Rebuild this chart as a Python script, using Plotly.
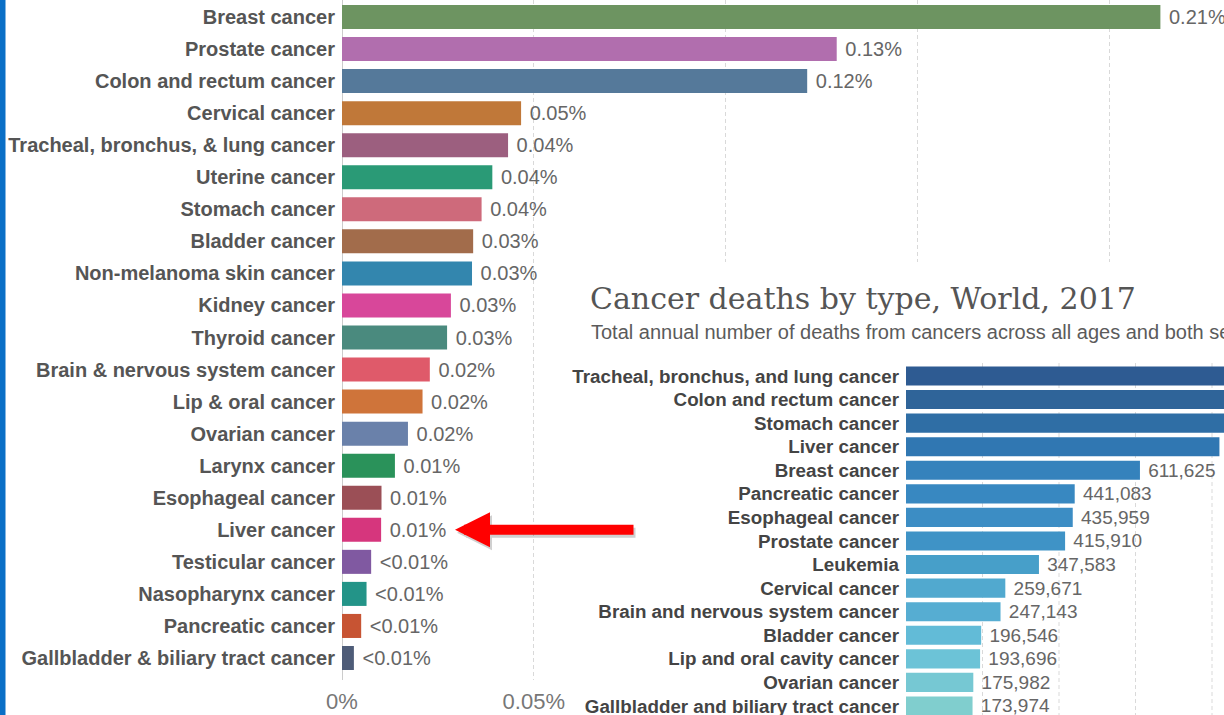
import plotly.graph_objects as go

# ---------------- data ----------------
incidence_categories = [
    "Breast cancer", "Prostate cancer", "Colon and rectum cancer", "Cervical cancer",
    "Tracheal, bronchus, & lung cancer", "Uterine cancer", "Stomach cancer", "Bladder cancer",
    "Non-melanoma skin cancer", "Kidney cancer", "Thyroid cancer", "Brain & nervous system cancer",
    "Lip & oral cancer", "Ovarian cancer", "Larynx cancer", "Esophageal cancer", "Liver cancer",
    "Testicular cancer", "Nasopharynx cancer", "Pancreatic cancer", "Gallbladder & biliary tract cancer",
]
incidence_values = [
    0.2134, 0.129, 0.1213, 0.0467, 0.0433, 0.0392, 0.0364, 0.0342, 0.0339, 0.0284, 0.0274,
    0.0229, 0.0210, 0.0172, 0.0138, 0.0103, 0.0102, 0.0076, 0.0064, 0.0050, 0.0031,
]
incidence_colors = [
    "#6D9461", "#B16EAE", "#55799A", "#C07839", "#9C5F7F", "#2A9A76", "#CE6A7B", "#A26C4B",
    "#3386AE", "#D8479A", "#4A8A7E", "#DF5A6A", "#CF743A", "#6A81AA", "#2A925A", "#9B4F56",
    "#D6367D", "#8059A1", "#239488", "#C75433", "#4E5C78",
]

death_categories = [
    "Tracheal, bronchus, and lung cancer", "Colon and rectum cancer", "Stomach cancer",
    "Liver cancer", "Breast cancer", "Pancreatic cancer", "Esophageal cancer", "Prostate cancer",
    "Leukemia", "Cervical cancer", "Brain and nervous system cancer", "Bladder cancer",
    "Lip and oral cavity cancer", "Ovarian cancer", "Gallbladder and biliary tract cancer",
]
death_values = [
    1883926, 896040, 864989, 819436, 611625, 441083, 435959, 415910, 347583, 259671,
    247143, 196546, 193696, 175982, 173974,
]
death_colors = [
    "#2E5B92", "#2F6499", "#2F6EA5", "#3077B2", "#3582BC", "#3888C1", "#3C8DC4", "#3F93C6",
    "#479FC9", "#51A9CF", "#56ADD2", "#62BBD7", "#6CC3D7", "#76C8D3", "#80CECE",
]

x_tickvals = [0, 0.05, 0.10, 0.15, 0.20]
x_ticktext = ["0%", "0.05%", "", "", ""]   # labels past 0.05% are hidden under the inset
death_gridvals = [200000, 400000, 600000, 800000]

inset_title = "Cancer deaths by type, World, 2017"
inset_subtitle = "Total annual number of deaths from cancers across all ages and both sexes."
highlight = "Liver cancer"

# ---------------- figure ----------------
W, H = 1224, 715
FONT = "Liberation Sans"
NBSP = "\u00a0"


def fx(px):
    return px / W


def fy(py):
    return 1 - py / H


incidence_text = [NBSP + ("<0.01%" if v < 0.01 else f"{v:.2f}%") for v in incidence_values]

fig = go.Figure()
fig.add_trace(go.Bar(
    y=incidence_categories, x=incidence_values, orientation="h",
    marker=dict(color=incidence_colors, line=dict(width=0)),
    text=incidence_text, textposition="outside", constraintext="none",
    textfont=dict(family=FONT, size=20, color="#666666"),
    cliponaxis=False, xaxis="x", yaxis="y", hoverinfo="skip",
))
fig.add_trace(go.Bar(
    y=death_categories, x=death_values, orientation="h",
    marker=dict(color=death_colors, line=dict(width=0)),
    texttemplate=NBSP + "%{x:,}", textposition="outside", constraintext="none",
    textfont=dict(family=FONT, size=19, color="#666666"),
    cliponaxis=True, xaxis="x2", yaxis="y2", hoverinfo="skip", width=0.81,
))

x_per_px = 0.05 / 191.75          # percent per pixel (main chart)
d_per_px = 200000 / 76.5          # deaths per pixel (inset)

fig.update_layout(
    width=W, height=H,
    margin=dict(l=0, r=0, t=0, b=0),
    paper_bgcolor="white", plot_bgcolor="white",
    showlegend=False,
    bargap=0.25,
    font=dict(family=FONT),
    xaxis=dict(
        domain=[fx(342), 1], range=[0, (W - 342) * x_per_px],
        tickvals=x_tickvals, ticktext=x_ticktext,
        showgrid=True, gridcolor="#d9d9d9", griddash="4px,3px", gridwidth=1,
        zeroline=True, zerolinecolor="#cccccc", zerolinewidth=1,
        showline=False, ticks="", automargin=False, fixedrange=True,
        tickfont=dict(family=FONT, size=22, color="#777777"),
        ticklabelstandoff=6, anchor="y",
    ),
    yaxis=dict(
        domain=[35 / H, 1],
        categoryorder="array", categoryarray=incidence_categories,
        range=[(680 - 17) / 32.05, -17 / 32.05],
        showgrid=False, zeroline=False, showline=False, ticks="",
        automargin=False, fixedrange=True,
        tickfont=dict(family=FONT, size=20, color="#555555", weight="bold"),
        ticklabelstandoff=6, anchor="x",
    ),
    xaxis2=dict(
        domain=[fx(565), 1], range=[-(906 - 565) * d_per_px, (W - 906) * d_per_px],
        anchor="y2", showgrid=False, zeroline=False, showline=False,
        showticklabels=False, ticks="", automargin=False, fixedrange=True,
    ),
    yaxis2=dict(
        domain=[0, fy(262)], anchor="free", position=fx(906),
        categoryorder="array", categoryarray=death_categories,
        range=[(715 - 376) / 23.57, -(376 - 262) / 23.57],
        showgrid=False, zeroline=False, showline=False, ticks="",
        automargin=False, fixedrange=True,
        tickfont=dict(family=FONT, size=18.8, color="#444444", weight="bold"),
        ticklabelstandoff=7,
    ),
)

# inset dashed gridlines (drawn inside the inset subplot)
for g in death_gridvals:
    fig.add_shape(
        type="line", xref="x2", yref="y2", x0=g, x1=g,
        y0=-0.55, y1=len(death_categories) + 1,
        line=dict(color="#d9d9d9", width=1, dash="4px,3px"), layer="below",
    )

# inset title & subtitle
fig.add_annotation(
    text=inset_title, xref="paper", yref="paper", x=fx(588), y=fy(298),
    xanchor="left", yanchor="middle", showarrow=False,
    font=dict(family="DejaVu Serif", size=30, color="#555555"),
)
fig.add_annotation(
    text=inset_subtitle, xref="paper", yref="paper", x=fx(589), y=fy(332),
    xanchor="left", yanchor="middle", showarrow=False,
    font=dict(family=FONT, size=20, color="#5b5b5b"),
)

# red arrow pointing at the highlighted bar (shadow + arrow)
tip_x = (455 - 342) * x_per_px
fig.add_annotation(
    x=tip_x, y=highlight, xref="x", yref="y", ax=180, ay=0, axref="pixel", ayref="pixel",
    text="", showarrow=True, arrowhead=2, arrowsize=0.7, arrowwidth=10,
    arrowcolor="rgba(0,0,0,0.18)", xshift=2, yshift=-3,
)
fig.add_annotation(
    x=tip_x, y=highlight, xref="x", yref="y", ax=180, ay=0, axref="pixel", ayref="pixel",
    text="", showarrow=True, arrowhead=2, arrowsize=0.7, arrowwidth=10,
    arrowcolor="#FF0000",
)

# blue frame on the left edge
fig.add_shape(
    type="rect", xref="paper", yref="paper", x0=0, x1=fx(5.5), y0=0, y1=1,
    fillcolor="#0A6FC6", line=dict(width=0), layer="above",
)

fig.write_html(
    "out.html",
    config={"displayModeBar": False},
    post_script="document.body.style.margin='0';document.body.style.overflow='hidden';",
)
